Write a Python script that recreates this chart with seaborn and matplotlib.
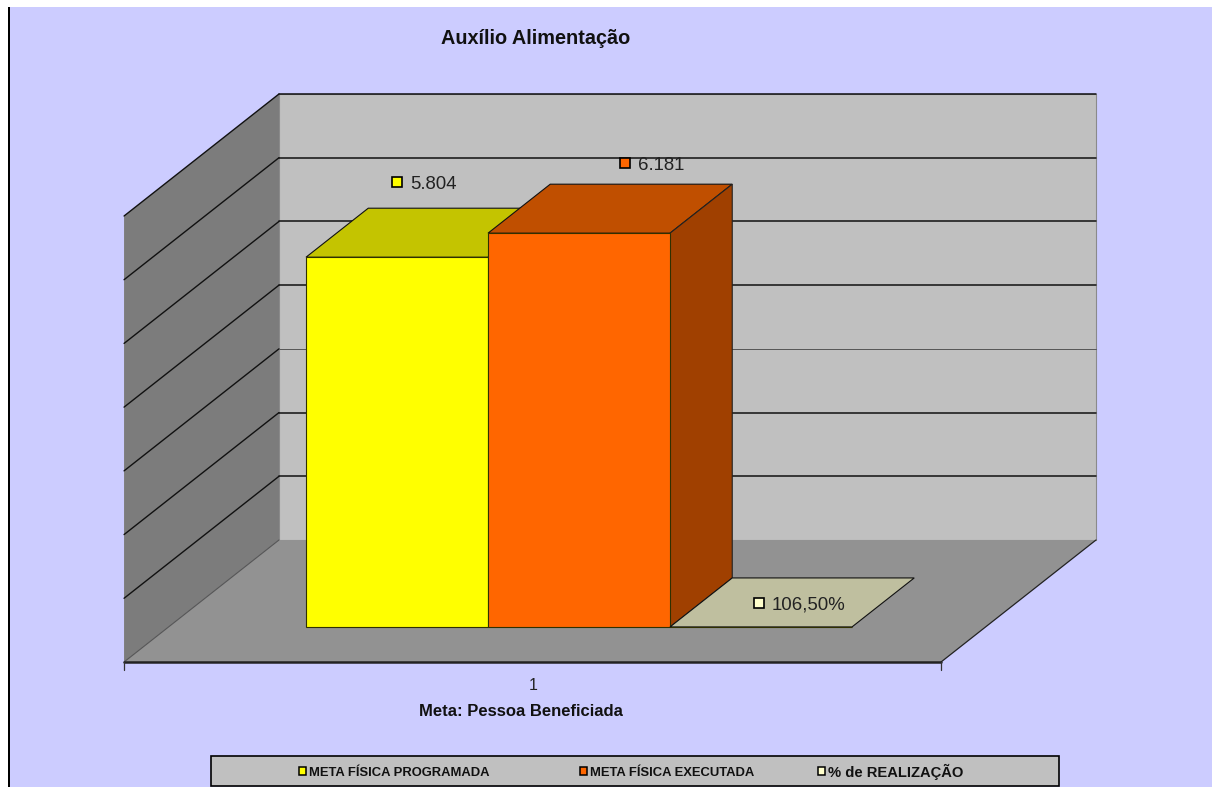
import pandas as pd
import matplotlib
matplotlib.use('Agg')
import matplotlib.pyplot as plt
import seaborn as sns
from matplotlib.patches import Polygon, Rectangle
from matplotlib.transforms import Affine2D, offset_copy

# Values
series = ['META FÍSICA PROGRAMADA', 'META FÍSICA EXECUTADA', '% de REALIZAÇÃO']
values = [5804, 6181, 1.065]
value_labels = ['5.804', '6.181', '106,50%']
category = ['1', '1', '1']
front_colors = ['#FFFF00', '#FF6600', '#FFFFCC']
top_colors = ['#C4C400', '#C04F00', '#BFBF9F']
side_colors = ['#9F9F00', '#A04000', '#9F9F80']
y_ticks = [0, 1000, 2000, 3000, 4000, 5000, 6000, 7000]

W, H = 1212, 787
df = pd.DataFrame({'meta': category, 'serie': series, 'valor': values})

sns.set_theme(style='white')
plt.rcParams['font.family'] = ['Liberation Sans', 'DejaVu Sans']

fig = plt.figure(figsize=(W / 100, H / 100), dpi=100, facecolor='white')
px = Affine2D().scale(1, -1).translate(0, H)  # pixel coords, y down

fig.add_artist(Rectangle((9, 7), W - 9, H - 7, transform=px, facecolor='#CCCCFF', edgecolor='none', zorder=-2))
fig.add_artist(Rectangle((8, 7), 1.5, H - 7, transform=px, facecolor='black', edgecolor='none', zorder=-1))

# axes sits on the front plane of the bars
ax = fig.add_axes([168.5 / W, (H - 627) / H, 817 / W, 446 / H])
sns.barplot(data=df, x='meta', y='valor', hue='serie', hue_order=series, palette=front_colors,
            saturation=1, width=0.8, legend=False, edgecolor='#303000', linewidth=0.8, ax=ax)
x_left, x_right = -0.6015, 0.5956
ax.set_xlim(x_left, x_right)
ax.set_ylim(0, 7000)
ax.axis('off')

x_per_px = (x_right - x_left) / 817
y_per_px = 7000 / 446
slant = 1.27
d_front, d_bar, d_back = -35, 49, 87


def proj(x, v, d):
    return (x + d * slant * x_per_px, v + d * y_per_px)


def face(points, color, z, edge='none', lw=0.8):
    ax.add_patch(Polygon(points, closed=True, facecolor=color, edgecolor=edge, linewidth=lw, clip_on=False, zorder=z))


# walls and floor
face([proj(x_left, 0, d_front), proj(x_left, 7000, d_front), proj(x_left, 7000, d_back), proj(x_left, 0, d_back)], '#7C7C7C', 0.1)
face([proj(x_left, 0, d_back), proj(x_left, 7000, d_back), proj(x_right, 7000, d_back), proj(x_right, 0, d_back)], '#C0C0C0', 0.1, edge='#8A8A8A')
face([proj(x_left, 0, d_front), proj(x_left, 0, d_back), proj(x_right, 0, d_back), proj(x_right, 0, d_front)], '#929292', 0.2)

# gridlines over both walls
for t in y_ticks[1:]:
    a, b, c = proj(x_left, t, d_front), proj(x_left, t, d_back), proj(x_right, t, d_back)
    ax.plot(*zip(a, b), color='#111111', lw=1.0, clip_on=False, zorder=0.3)
    thin = t == 3000
    ax.plot(*zip(b, c), color='#555555' if thin else '#111111', lw=0.7 if thin else 1.1, clip_on=False, zorder=0.3)
ax.plot(*zip(proj(x_right, 0, d_front), proj(x_right, 0, d_back)), color='#222222', lw=0.9, clip_on=False, zorder=0.3)
ax.plot(*zip(proj(x_left, 0, d_front), proj(x_left, 0, d_back)), color='#555555', lw=0.8, clip_on=False, zorder=0.3)

# front axis line and end ticks
ax.plot(*zip(proj(x_left, 0, d_front), proj(x_right, 0, d_front)), color='#222222', lw=1.8, clip_on=False, zorder=0.4)
for xe in (x_left, x_right):
    x0, y0 = proj(xe, 0, d_front)
    ax.plot([x0, x0], [y0, y0 - 8 * y_per_px], color='#333333', lw=0.9, clip_on=False, zorder=0.4)

# depth faces of each bar, from the seaborn bars
bars = [c[0] for c in ax.containers]
label_offsets = [(0, 75), (46, 70), (-2, 24)]
for i, bar in enumerate(bars):
    x0, x1 = bar.get_x(), bar.get_x() + bar.get_width()
    v = bar.get_height()
    z = 1 + i * 0.1
    bar.set_zorder(z + 0.02)
    bar.set_clip_on(False)
    face([proj(x0, v, 0), proj(x0, v, d_bar), proj(x1, v, d_bar), proj(x1, v, 0)], top_colors[i], z, edge='#111111')
    if v > 10:
        face([proj(x1, 0, 0), proj(x1, v, 0), proj(x1, v, d_bar), proj(x1, 0, d_bar)], side_colors[i], z, edge='#222222')

    # value label: small key plus text
    cx = x0 + bar.get_width() / 2
    dx, dy = label_offsets[i]
    key_tr = offset_copy(ax.transData, fig=fig, x=dx, y=dy, units='dots')
    ax.plot([cx], [v], marker='s', ms=7, mfc=front_colors[i], mec='black', mew=1.2, transform=key_tr, clip_on=False, zorder=5)
    ax.annotate(value_labels[i], xy=(cx, v), xytext=(dx + 13, dy - 2), textcoords='offset pixels',
                va='center', ha='left', fontsize=13.4, color='#222222', zorder=5, annotation_clip=False)

# titles
fig.text(535.5, 38, 'Auxílio Alimentação', transform=px, ha='center', va='center', fontsize=14.3, fontweight='bold', color='#111111')
fig.text(533, 685.5, '1', transform=px, ha='center', va='center', fontsize=11.5, color='#222222')
fig.text(520.5, 712, 'Meta: Pessoa Beneficiada', transform=px, ha='center', va='center', fontsize=12, fontweight='bold', color='#111111')

# legend box
fig.add_artist(Rectangle((210.5, 755.5), 848, 30.5, transform=px, facecolor='#C0C0C0', edgecolor='black', linewidth=1.2, zorder=1))
legend_keys = [302, 583, 821]
legend_sizes = [9.4, 9.4, 10.6]
legend_base = [775.5, 775.5, 776.5]
for name, color, kx, fs, by in zip(series, front_colors, legend_keys, legend_sizes, legend_base):
    fig.add_artist(Rectangle((kx - 3, 767), 6.5, 7.5, transform=px, facecolor=color, edgecolor='black', linewidth=1.1, zorder=2))
    fig.text(kx + 7, by, name, transform=px, ha='left', va='baseline', fontsize=fs, fontweight='bold', color='#111111', zorder=3)

fig.savefig('out.png', dpi=100, facecolor=fig.get_facecolor())
